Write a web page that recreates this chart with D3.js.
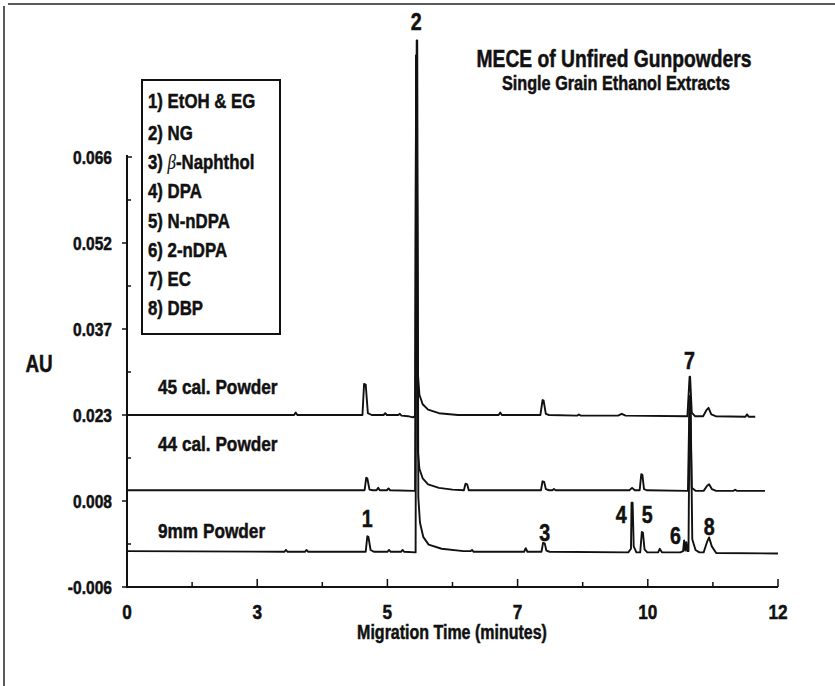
<!DOCTYPE html>
<html>
<head>
<meta charset="utf-8">
<script src="https://cdn.jsdelivr.net/npm/d3@7"></script>
<style>
  body { margin: 0; background: #fff; }
  svg text {
    font-family: "Liberation Sans", Arial, Helvetica, sans-serif;
    font-weight: bold;
    fill: #111;
    stroke: #111;
    stroke-width: 0.5px;
  }
</style>
</head>
<body>
<svg id="chart" width="835" height="686"></svg>
<script>
  // Values: [minutes, AU]
  var trace45cal = [
    [0, 0.0228], [3.08, 0.0228], [3.11, 0.0232], [3.14, 0.0228],
    [4.34, 0.0228], [4.37, 0.0280], [4.40, 0.0279], [4.44, 0.0231], [4.51, 0.0228],
    [4.73, 0.0228], [4.76, 0.0231], [4.79, 0.0228],
    [5.00, 0.0228], [5.03, 0.0230], [5.06, 0.0227],
    [5.18, 0.0226], [5.27, 0.0224], [5.31, 0.0226],
    [5.33, 0.0830], [5.34, 0.0830],
    [5.36, 0.0300], [5.39, 0.0262], [5.45, 0.0246], [5.55, 0.0237], [5.75, 0.0231], [6.10, 0.0228],
    [6.85, 0.0228], [6.88, 0.0232], [6.91, 0.0228],
    [7.62, 0.0228], [7.66, 0.0253], [7.68, 0.0252], [7.72, 0.0230], [7.78, 0.0228],
    [8.30, 0.0227], [8.33, 0.0229], [8.36, 0.0227],
    [9.05, 0.0227], [9.12, 0.0230], [9.19, 0.0227],
    [10.33, 0.0226], [10.37, 0.0292], [10.38, 0.0292], [10.41, 0.0232], [10.47, 0.0226],
    [10.62, 0.0226], [10.68, 0.0236], [10.72, 0.0240], [10.77, 0.0229], [10.85, 0.0226],
    [11.40, 0.0225], [11.43, 0.0229], [11.46, 0.0225],
    [11.58, 0.0225]
  ];

  var trace44cal = [
    [0, 0.0102],
    [4.38, 0.0102], [4.41, 0.0123], [4.43, 0.0122], [4.47, 0.0103], [4.53, 0.0102],
    [4.60, 0.0102], [4.63, 0.0106], [4.66, 0.0102],
    [4.79, 0.0102], [4.82, 0.0105], [4.85, 0.0102],
    [5.31, 0.0101], [5.33, 0.0830], [5.34, 0.0830],
    [5.36, 0.0170], [5.39, 0.0138], [5.45, 0.0122], [5.55, 0.0112], [5.75, 0.0106], [6.00, 0.0103],
    [6.21, 0.0102], [6.24, 0.0113], [6.27, 0.0112], [6.30, 0.0102],
    [7.63, 0.0102], [7.66, 0.0117], [7.69, 0.0116], [7.72, 0.0104], [7.78, 0.0102],
    [7.84, 0.0102], [7.87, 0.0104], [7.90, 0.0102],
    [9.26, 0.0102], [9.31, 0.0106], [9.36, 0.0102],
    [9.45, 0.0102], [9.48, 0.0129], [9.50, 0.0128], [9.53, 0.0104], [9.58, 0.0102],
    [10.34, 0.0101], [10.37, 0.0260], [10.38, 0.0260], [10.41, 0.0106], [10.48, 0.0101],
    [10.63, 0.0101], [10.69, 0.0109], [10.73, 0.0112], [10.78, 0.0104], [10.86, 0.0101],
    [11.18, 0.0101], [11.21, 0.0103], [11.24, 0.0101],
    [11.76, 0.0101]
  ];

  var trace9mm = [
    [0, 0.0000],
    [2.90, -0.0001], [2.93, 0.0002], [2.96, -0.0001],
    [3.28, -0.0001], [3.31, 0.0002], [3.34, -0.0001],
    [4.40, -0.0001], [4.43, 0.0025], [4.45, 0.0024], [4.49, 0.0002], [4.55, -0.0001],
    [4.80, -0.0001], [4.83, 0.0002], [4.86, -0.0001],
    [5.05, -0.0001], [5.08, 0.0002], [5.11, -0.0001],
    [5.32, -0.0002], [5.34, 0.0855], [5.35, 0.0855],
    [5.37, 0.0090], [5.40, 0.0048], [5.46, 0.0024], [5.56, 0.0011], [5.80, 0.0004], [6.20, 0.0000],
    [6.33, 0.0000], [6.36, 0.0002], [6.39, -0.0001],
    [7.32, -0.0001], [7.35, 0.0005], [7.38, -0.0001],
    [7.64, -0.0001], [7.67, 0.0014], [7.70, 0.0013], [7.73, 0.0001], [7.79, -0.0001],
    [9.24, -0.0002], [9.29, 0.0004], [9.30, 0.0081], [9.32, 0.0081], [9.34, 0.0008], [9.39, -0.0002],
    [9.46, -0.0002], [9.49, 0.0032], [9.51, 0.0031], [9.54, 0.0003], [9.59, -0.0002],
    [9.79, -0.0002], [9.82, 0.0004], [9.86, -0.0002],
    [10.20, -0.0002], [10.25, 0.0000], [10.27, 0.0018], [10.29, 0.0001], [10.31, 0.0015], [10.33, 0.0000],
    [10.35, 0.0000], [10.37, 0.0240], [10.39, 0.0240], [10.42, 0.0020], [10.48, 0.0002], [10.55, -0.0002],
    [10.63, -0.0002], [10.69, 0.0015], [10.73, 0.0023], [10.78, 0.0008], [10.86, -0.0003],
    [12.00, -0.0004]
  ];

  var traceNames = ['45 cal. Powder', '44 cal. Powder', '9mm Powder'];

  var legendItems = [
    '1) EtOH & EG', '2) NG', '3) \u03B2-Naphthol', '4) DPA',
    '5) N-nDPA', '6) 2-nDPA', '7) EC', '8) DBP'
  ];

  // peak number, migration time, AU where the number sits
  var peakLabels = [
    ['1', 4.43, 0.0040],
    ['2', 5.33, 0.0873],
    ['3', 7.70, 0.0017],
    ['4', 9.11, 0.0047],
    ['5', 9.59, 0.0047],
    ['6', 10.11, 0.0012],
    ['7', 10.37, 0.0305],
    ['8', 10.73, 0.0027]
  ];

  var xTickValues = [0, 2.4, 4.8, 7.2, 9.6, 12];
  var xTickLabels = ['0', '3', '5', '7', '10', '12'];
  var yTickValues = [-0.006, 0.0084, 0.0228, 0.0372, 0.0516, 0.066];
  var yTickLabels = ['-0.006', '0.008', '0.023', '0.037', '0.052', '0.066'];

  var svg = d3.select('#chart');

  var x = d3.scaleLinear().domain([0, 12]).range([127, 778]);
  var y = d3.scaleLinear().domain([-0.006, 0.066]).range([587, 157]);

  // the original lettering is a condensed bold face, squeeze a regular one
  var SQUEEZE = 0.82;
  function label(g, px, py, str, size, anchor) {
    return g.append('text')
      .attr('transform', 'translate(' + px + ',' + py + ') scale(' + SQUEEZE + ',1)')
      .attr('text-anchor', anchor || 'start')
      .attr('font-size', size)
      .text(str);
  }

  // scan frame (only top and left edges show)
  svg.append('line').attr('x1', 8).attr('y1', 4).attr('x2', 835).attr('y2', 4)
    .attr('stroke', '#222').attr('stroke-width', 1.5);
  svg.append('line').attr('x1', 4).attr('y1', 6).attr('x2', 4).attr('y2', 686)
    .attr('stroke', '#222').attr('stroke-width', 1.5);

  // minor ticks sit halfway between the labelled ones
  var xMinor = d3.pairs(xTickValues).map(function(p) { return (p[0] + p[1]) / 2; });
  var yMinor = d3.pairs(yTickValues).map(function(p) { return (p[0] + p[1]) / 2; });

  var axes = svg.append('g').attr('class', 'axes')
    .attr('stroke', '#111').attr('stroke-width', 2).attr('fill', 'none');

  axes.append('line')
    .attr('x1', x(0)).attr('x2', x(0))
    .attr('y1', y(0.066) - 2).attr('y2', y(-0.006) + 1);
  axes.append('line')
    .attr('x1', x(0)).attr('x2', x(12))
    .attr('y1', y(-0.006)).attr('y2', y(-0.006));

  axes.selectAll('.ytick').data(yTickValues).enter().append('line')
    .attr('x1', function(d) { return d == 0.066 ? x(0) + 5 : x(0) - 5; })
    .attr('x2', x(0))
    .attr('y1', y).attr('y2', y)
    .attr('stroke-width', 1.5);
  axes.selectAll('.yminor').data(yMinor).enter().append('line')
    .attr('x1', x(0)).attr('x2', x(0) + 4)
    .attr('y1', y).attr('y2', y)
    .attr('stroke-width', 1.5);

  axes.selectAll('.xtick').data(xTickValues).enter().append('line')
    .attr('x1', x).attr('x2', x)
    .attr('y1', y(-0.006)).attr('y2', y(-0.006) - 8)
    .attr('stroke-width', 1.5);
  axes.selectAll('.xminor').data(xMinor).enter().append('line')
    .attr('x1', x).attr('x2', x)
    .attr('y1', y(-0.006)).attr('y2', y(-0.006) - 5)
    .attr('stroke-width', 1.5);

  var texts = svg.append('g').attr('class', 'texts');

  yTickValues.forEach(function(v, i) {
    label(texts, 112, y(v) + 7, yTickLabels[i], 19, 'end');
  });
  xTickValues.forEach(function(v, i) {
    label(texts, x(v), 619, xTickLabels[i], 21, 'middle');
  });

  label(texts, 39, 372, 'AU', 23, 'middle');
  label(texts, 452, 639, 'Migration Time (minutes)', 19.5, 'middle');

  // title
  label(texts, 614, 67, 'MECE of Unfired Gunpowders', 23.5, 'middle');
  label(texts, 616, 90, 'Single Grain Ethanol Extracts', 19.8, 'middle');

  // traces
  var line = d3.line()
    .x(function(d) { return x(d[0]); })
    .y(function(d) { return y(d[1]); });

  svg.append('g').attr('class', 'traces')
    .selectAll('path').data([trace45cal, trace44cal, trace9mm]).enter().append('path')
    .attr('d', line)
    .attr('fill', 'none')
    .attr('stroke', '#111')
    .attr('stroke-width', 1.9)
    .attr('stroke-linejoin', 'round');

  var nameY = [394, 451, 538];
  traceNames.forEach(function(name, i) {
    label(texts, 158, nameY[i], name, 21);
  });

  peakLabels.forEach(function(p) {
    label(texts, x(p[1]), y(p[2]), p[0], 24, 'middle');
  });

  // legend box
  var legend = svg.append('g').attr('class', 'legend');
  legend.append('rect')
    .attr('x', 142).attr('y', 80).attr('width', 138).attr('height', 254)
    .attr('fill', '#fff').attr('stroke', '#111').attr('stroke-width', 2);

  legendItems.forEach(function(d, i) {
    var yy = i == 0 ? 108 : 140 + (i - 1) * 29.2;
    var parts = d.split('\u03B2');
    if (parts.length == 1) {
      label(legend, 148, yy, d, 20.5);
      return;
    }
    var t = label(legend, 148, yy, '', 20.5);
    t.append('tspan').text(parts[0] + ' ');
    t.append('tspan').attr('font-family', 'Liberation Serif, DejaVu Serif, serif')
      .attr('font-style', 'italic').attr('font-weight', 'normal').attr('stroke-width', 0.2).text('\u03B2');
    t.append('tspan').text(parts[1]);
  });
</script>
</body>
</html>
